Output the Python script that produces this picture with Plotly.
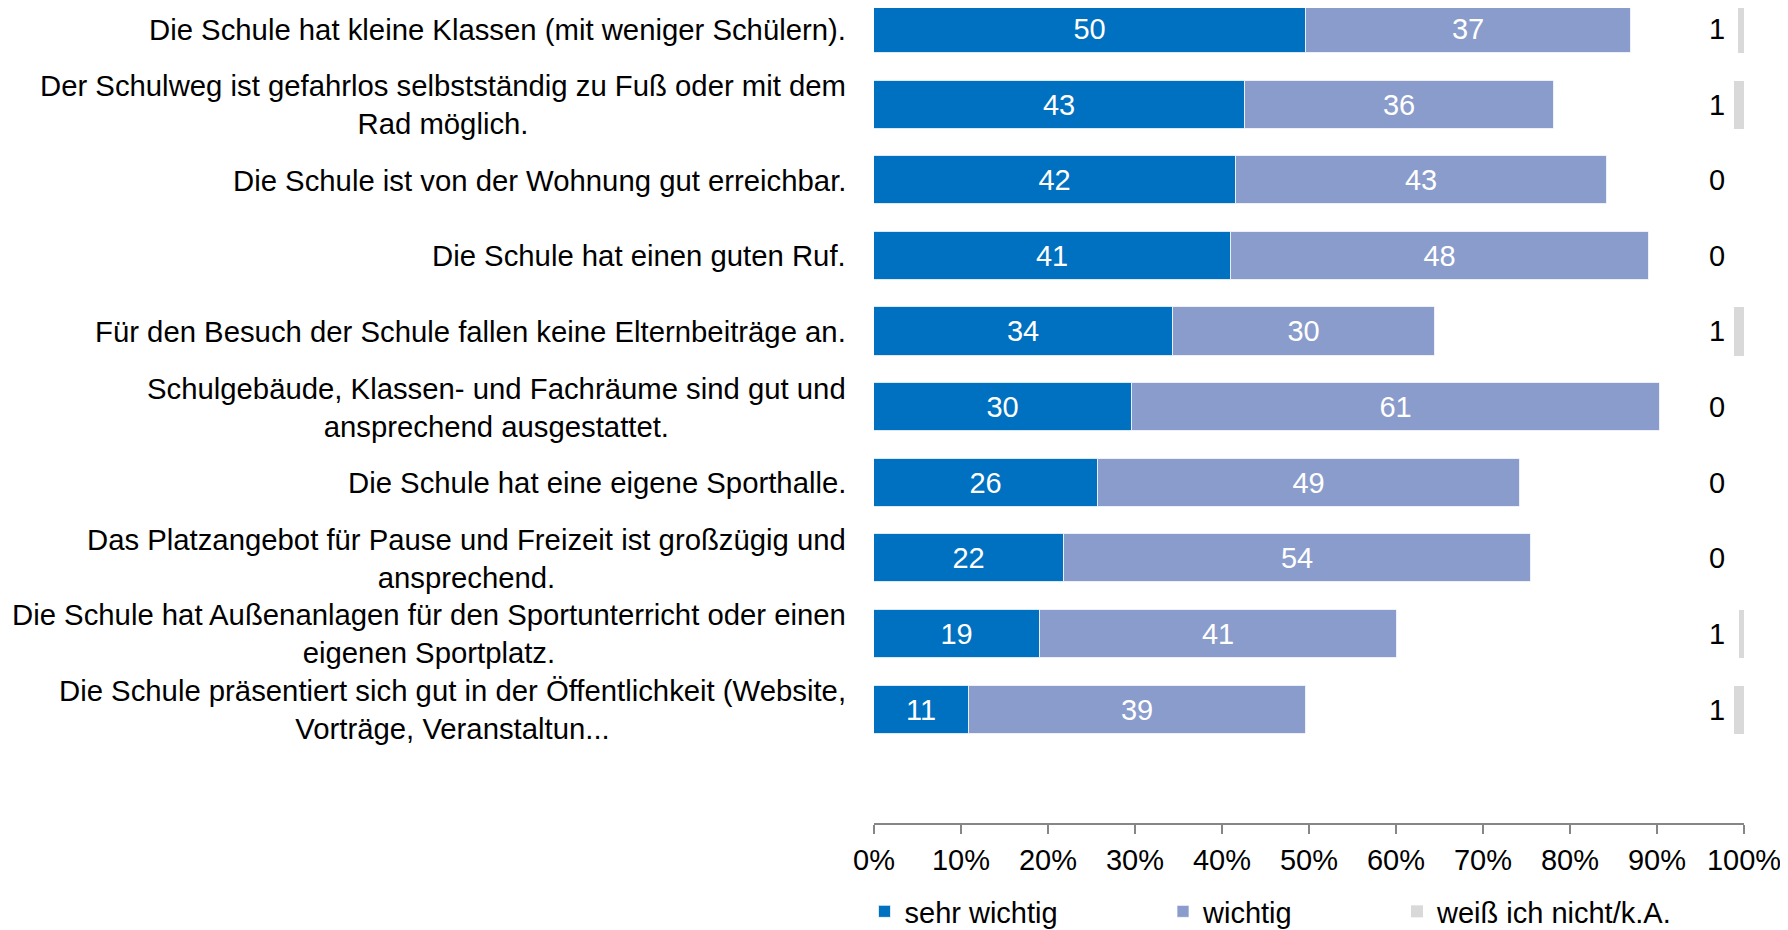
import plotly.graph_objects as go

categories = [
    "Die Schule hat kleine Klassen (mit weniger Schülern).",
    "Der Schulweg ist gefahrlos selbstständig zu Fuß oder mit dem<br>Rad möglich.",
    "Die Schule ist von der Wohnung gut erreichbar.",
    "Die Schule hat einen guten Ruf.",
    "Für den Besuch der Schule fallen keine Elternbeiträge an.",
    "Schulgebäude, Klassen- und Fachräume sind gut und<br>ansprechend ausgestattet.",
    "Die Schule hat eine eigene Sporthalle.",
    "Das Platzangebot für Pause und Freizeit ist großzügig und<br>ansprechend.",
    "Die Schule hat Außenanlagen für den Sportunterricht oder einen<br>eigenen Sportplatz.",
    "Die Schule präsentiert sich gut in der Öffentlichkeit (Website,<br>Vorträge, Veranstaltun...",
]
sehr_wichtig = [49.7, 42.6, 41.6, 41.0, 34.4, 29.6, 25.7, 21.8, 19.1, 10.9]
wichtig = [37.3, 35.6, 42.6, 48.1, 30.1, 60.7, 48.6, 53.7, 41.0, 38.8]
weiss_nicht = [0.7, 1.2, 0, 0, 1.1, 0, 0, 0, 0.6, 1.2]
series_names = ["sehr wichtig", "wichtig", "weiß ich nicht/k.A."]
tick_values = [0, 10, 20, 30, 40, 50, 60, 70, 80, 90, 100]
tick_labels = [f"{v}%" for v in tick_values]

FONT = "Liberation Sans, Arial, sans-serif"
FS = 29
C_SEHR = "#0070C0"
C_WICHTIG = "#8A9CCB"
C_GREY = "#D9D9D9"
BAR_W = 0.635

fig = go.Figure()
fig.add_trace(go.Bar(
    y=categories, x=sehr_wichtig, base=[0] * len(sehr_wichtig), orientation="h",
    name=series_names[0], marker=dict(color=C_SEHR, line=dict(color="rgba(255,255,255,0.7)", width=1)),
    width=BAR_W, text=[str(round(v)) for v in sehr_wichtig], textposition="inside",
    insidetextanchor="middle", textangle=0, constraintext="none",
    textfont=dict(family=FONT, size=FS, color="white"), legend="legend",
))
fig.add_trace(go.Bar(
    y=categories, x=wichtig, base=sehr_wichtig, orientation="h",
    name=series_names[1], marker=dict(color=C_WICHTIG, line=dict(color="rgba(255,255,255,0.7)", width=1)),
    width=BAR_W, text=[str(round(v)) for v in wichtig], textposition="inside",
    insidetextanchor="middle", textangle=0, constraintext="none",
    textfont=dict(family=FONT, size=FS, color="white"), legend="legend2",
))
fig.add_trace(go.Bar(
    y=categories, x=weiss_nicht, base=[100 - v for v in weiss_nicht], orientation="h",
    name=series_names[2], marker=dict(color=C_GREY, line=dict(width=0)),
    width=BAR_W, legend="legend3",
))

annotations = []
for cat in categories:
    annotations.append(dict(
        x=-0.0299, xref="paper", y=cat, yref="y", text=cat, showarrow=False,
        xanchor="right", yanchor="middle", align="center",
        font=dict(family=FONT, size=29.3, color="black"),
    ))
for cat, v in zip(categories, weiss_nicht):
    annotations.append(dict(
        x=96.9, xref="x", y=cat, yref="y", text=str(round(v)), showarrow=False,
        xanchor="center", yanchor="middle",
        font=dict(family=FONT, size=FS, color="black"),
    ))

W, H = 1780, 922
L, R, T, B = 866, 44, 0, 107
PW = W - L - R
PH = H - T - B

legend_common = dict(orientation="h", yanchor="middle", xanchor="left",
                     y=(PH - 903.5) / PH,
                     font=dict(family=FONT, size=FS, color="black"),
                     bgcolor="rgba(0,0,0,0)", itemwidth=30, borderwidth=0)

fig.update_layout(
    width=W, height=H,
    margin=dict(l=L, r=R, t=T, b=B, autoexpand=False),
    paper_bgcolor="white", plot_bgcolor="white",
    barmode="overlay", bargap=0,
    font=dict(family=FONT, size=FS, color="black"),
    showlegend=True,
    legend=dict(**legend_common, x=(856.5 - L) / PW),
    legend2=dict(**legend_common, x=(1155 - L) / PW),
    legend3=dict(**legend_common, x=(1389 - L) / PW),
    annotations=annotations,
    xaxis=dict(range=[0, 100], tickvals=tick_values, ticktext=tick_labels,
               showgrid=False, zeroline=False, showline=True, linecolor="#868686",
               linewidth=1.5, ticks="outside", ticklen=9, tickcolor="#868686",
               tickwidth=1.5, tickfont=dict(family=FONT, size=FS, color="black"),
               ticklabelstandoff=1, fixedrange=True),
    yaxis=dict(type="category", categoryarray=categories, range=[10.50, -0.278],
               autorange=False, showticklabels=False, showgrid=False, zeroline=False,
               showline=False, ticks="", fixedrange=True),
)

fig.write_html("out.html")
